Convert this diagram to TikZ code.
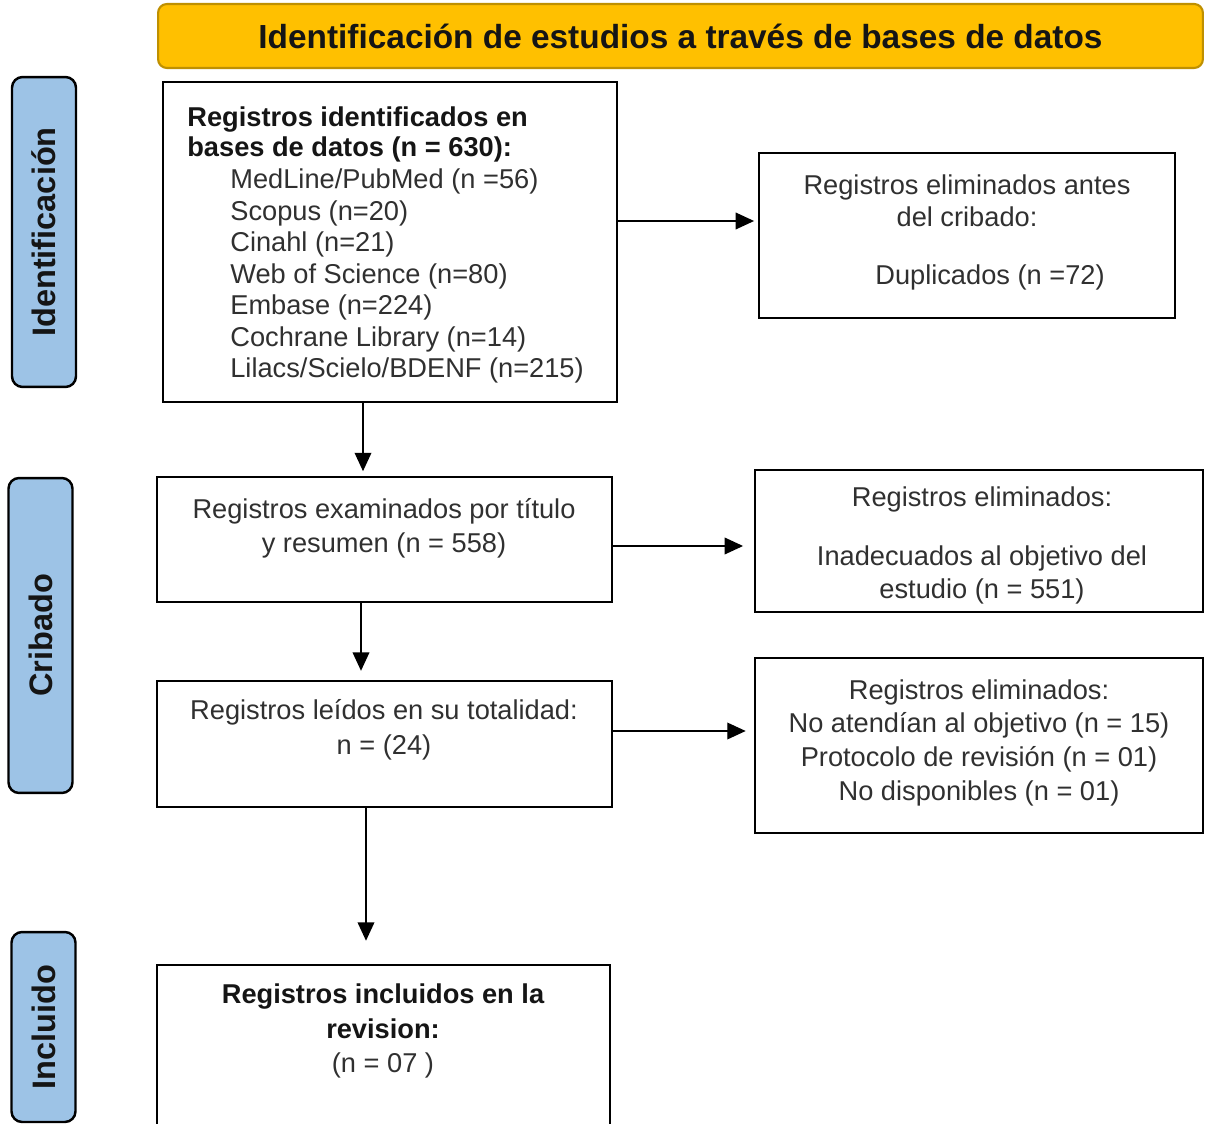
\documentclass[tikz,border=0pt]{standalone}
\usepackage{fontspec}
\setmainfont{Liberation Sans}
\usetikzlibrary{arrows.meta,fit}
\definecolor{bannerfill}{HTML}{FFC000}
\definecolor{bannerdraw}{HTML}{BF9000}
\definecolor{phasefill}{HTML}{9DC3E6}
\definecolor{txtgray}{HTML}{303030}
\definecolor{txtdark}{HTML}{151515}
\begin{document}
\begin{tikzpicture}[x=0.02cm,y=-0.02cm,
  box/.style={draw=black, line width=1.6pt, inner sep=0pt, fit={#1}},
  banner/.style={draw=bannerdraw, fill=bannerfill, line width=1.2pt, rounded corners=5pt,
    inner sep=0pt, font=\fontsize{19}{22}\selectfont\bfseries, text=txtdark},
  phase/.style={draw=black, fill=phasefill, line width=1.4pt, rounded corners=6pt,
    inner sep=0pt, rotate=90, minimum height=1.28cm, font=\fontsize{18.5}{22}\selectfont\bfseries, text=txtdark},
  body/.style={inner sep=0pt, text=txtgray, font=\fontsize{15.5}{17.6}\selectfont},
  bodyb/.style={inner sep=0pt, text=txtdark, font=\fontsize{15.5}{17.6}\selectfont\bfseries},
  arr/.style={draw=black, line width=0.85pt, -{Triangle[length=10.5pt,width=9.5pt]}}
]
\clip (0,0) rectangle (1206,1124);
\fill[white] (0,0) rectangle (1206,1124);

% banner
\node[banner, minimum width=20.9cm, minimum height=1.28cm] (ban) at (680.5,36) {Identificación de estudios a través de bases de datos};

% phase labels
\node[phase, minimum width=6.2cm] (pid) at (44,232) {Identificación};
\node[phase, minimum width=6.3cm] (pcr) at (40.5,635.5) {Cribado};
\node[phase, minimum width=3.8cm] (pin) at (43.5,1027) {Incluido};

% boxes
\node[box={(163,82) (617,402)}] (b1) {};
\node[box={(759,153) (1175,318)}] (r1) {};
\node[box={(157,477) (612,602)}] (b2) {};
\node[box={(755,470) (1203,612)}] (r2) {};
\node[box={(157,681) (612,807)}] (b3) {};
\node[box={(755,658) (1203,833)}] (r3) {};
\node[box={(157,965) (610,1150)}] (b4) {};

% texts (anchor base = baseline of the last line)
\node[bodyb, anchor=base west, align=left] (t1a) at (187,157)
  {Registros identificados en\\bases de datos (n = 630):};
\node[body, anchor=base west, align=left, font=\fontsize{15.5}{17.97}\selectfont] (t1b) at (230,378)
  {MedLine/PubMed (n =56)\\Scopus (n=20)\\Cinahl (n=21)\\Web of Science (n=80)\\Embase (n=224)\\Cochrane Library (n=14)\\Lilacs/Scielo/BDENF (n=215)};
\node[body, anchor=base, align=center, font=\fontsize{15.5}{18.7}\selectfont] (tr1a) at (967,227)
  {Registros eliminados antes\\del cribado:};
\node[body, anchor=base] (tr1b) at (990,285) {Duplicados (n =72)};
\node[body, anchor=base, align=center, font=\fontsize{15.5}{19.1}\selectfont] (t2) at (384,552)
  {Registros examinados por título\\y resumen (n = 558)};
\node[body, anchor=base] (tr2a) at (982,507) {Registros eliminados:};
\node[body, anchor=base, align=center, font=\fontsize{15.5}{18.7}\selectfont] (tr2b) at (982,598)
  {Inadecuados al objetivo del\\estudio (n = 551)};
\node[body, anchor=base, align=center, font=\fontsize{15.5}{19.8}\selectfont] (t3) at (384,754)
  {Registros leídos en su totalidad:\\n = (24)};
\node[body, anchor=base, align=center, font=\fontsize{15.5}{19.1}\selectfont] (tr3) at (979,800)
  {Registros eliminados:\\No atendían al objetivo (n = 15)\\Protocolo de revisión (n = 01)\\No disponibles (n = 01)};
\node[bodyb, anchor=base, align=center, font=\fontsize{15.5}{19.5}\selectfont\bfseries] (t4a) at (383,1038)
  {Registros incluidos en la\\revision:};
\node[body, anchor=base] (t4b) at (383,1072) {(n = 07 )};

% arrows
\draw[arr, shorten >=2pt] (b1.east |- 0,221) -- (r1.west |- 0,221);
\draw[arr, shorten >=6pt] (b2.east |- 0,546) -- (r2.west |- 0,546);
\draw[arr, shorten >=4.5pt] (b3.east |- 0,731) -- (r3.west |- 0,731);
\draw[arr, shorten >=2.5pt] (b1.south -| 363,0) -- (b2.north -| 363,0);
\draw[arr, shorten >=5pt] (b2.south -| 361,0) -- (b3.north -| 361,0);
\draw[arr, shorten >=13pt] (b3.south -| 366,0) -- (b4.north -| 366,0);
\end{tikzpicture}
\end{document}
